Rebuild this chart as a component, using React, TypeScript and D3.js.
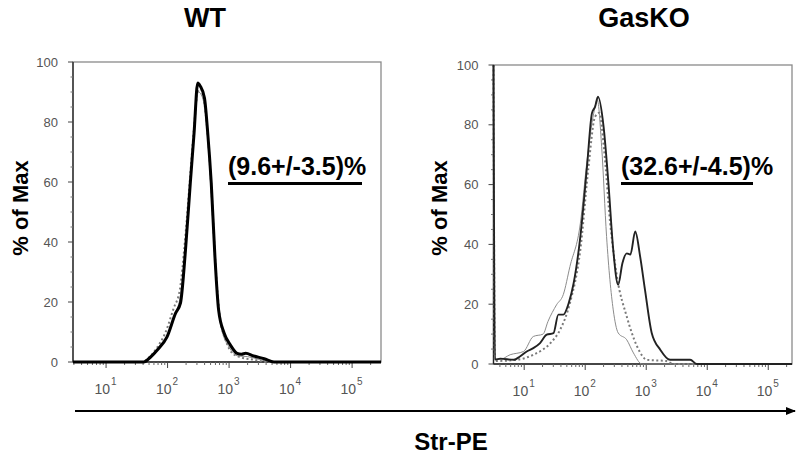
import React from "react";
import * as d3 from "d3";

// ---------- data ----------
const panelTitles = ["WT", "GasKO"];
const annotations = ["(9.6+/-3.5)%", "(32.6+/-4.5)%"];
const yTicks = [0, 20, 40, 60, 80, 100];
const xDecades = [1, 2, 3, 4, 5];

// WT panel: [intensity, % of Max]
const wtThick: [number, number][] = [
  [2.9, 0], [41, 0], [52, 1.5], [68, 4], [98, 8.4], [135, 16.3], [162, 19.6], [195, 37],
  [234, 59.6], [269, 76], [309, 93], [339, 92], [398, 88], [447, 77], [513, 59.6],
  [589, 35], [676, 17.3], [832, 9.6], [1047, 5.7], [1349, 2.9], [1585, 2.6], [1862, 2.9],
  [2512, 2.0], [3715, 1.1], [5370, 0], [295000, 0],
];
const wtThin: [number, number][] = [
  [2.9, 0], [40, 0], [56, 2], [71, 5], [100, 9], [132, 16], [158, 21], [200, 40], [240, 62],
  [282, 82], [316, 90], [355, 89], [417, 82], [479, 66], [550, 45], [631, 24], [759, 11],
  [1000, 5], [1413, 2], [1995, 1.8], [3162, 0.8], [5012, 0], [295000, 0],
];
const wtDotted: [number, number][] = [
  [2.9, 0], [38, 0], [50, 1.5], [66, 4.5], [93, 10], [126, 18], [158, 24], [191, 40],
  [229, 60], [269, 78], [309, 90], [347, 91], [398, 86], [457, 74], [525, 55], [603, 32],
  [708, 15], [891, 7], [1122, 3], [1585, 1.5], [2512, 0.8], [3981, 0], [295000, 0],
];

// GasKO panel
const koThick: [number, number][] = [
  [3.14, 100], [3.31, 1.5], [4.07, 1.8], [6.76, 1.4], [8.51, 2.5], [11, 4.2], [14.1, 5.3],
  [18.2, 7], [23.4, 9.8], [30.2, 10.3], [36.3, 16.5], [43.7, 16.5], [53.7, 20.4], [64.6, 27],
  [83.2, 42.6], [107, 66], [129, 83.9], [145, 86], [162, 89.4], [200, 79.4], [240, 60.5],
  [288, 38.2], [347, 26.5], [407, 33.7], [479, 37], [550, 36.6], [661, 44.3], [794, 36],
  [955, 24.8], [1230, 10.4], [1698, 4.8], [2455, 1.4], [5248, 1.4], [6761, 0], [245000, 0],
];
const koThin: [number, number][] = [
  [3.14, 100], [3.31, 1.5], [3.98, 1.5], [5.89, 3.1], [9.77, 4.2], [14.1, 9.2], [20.4, 10],
  [24.5, 14.2], [33.9, 19.8], [43.7, 23.2], [56.2, 32.6], [83.2, 47], [107, 68], [138, 83.9],
  [158, 88.3], [186, 72.7], [224, 42.6], [288, 18.1], [347, 10.4], [479, 8.1], [617, 3.7],
  [851, 0], [245000, 0],
];
const koDotted: [number, number][] = [
  [3.14, 100], [3.31, 1], [7.59, 1.4], [14.1, 3.1], [26.9, 7], [38.9, 11.5], [56.2, 20.4],
  [83.2, 38.2], [112, 65], [145, 82.7], [170, 84], [204, 71.6], [257, 47], [331, 29.3],
  [479, 15.9], [708, 5.9], [1023, 1.4], [2138, 1], [2818, 0], [245000, 0],
];

const panelDomains: [number, number][] = [[2.9, 295000], [3.14, 245000]];

// ---------- layout ----------
const W = 800;
const H = 456;
const panels = [
  { left: 73, right: 381, top: 62, bottom: 362, thickW: 3, thickC: "#000", titleX: 205, ylabX: 28, annX: 228, annW: 134 },
  { left: 493.5, right: 792, top: 65, bottom: 364, thickW: 1.9, thickC: "#222", titleX: 644, ylabX: 447, annX: 621, annW: 132 },
];
const panelData = [
  [wtDotted, wtThin, wtThick],
  [koDotted, koThin, koThick],
];

const font = "'Liberation Sans', Arial, Helvetica, sans-serif";

function Panel({ idx }: { idx: number }) {
  const p = panels[idx];
  const x = d3.scaleLog().domain(panelDomains[idx]).range([p.left, p.right]);
  const y = d3.scaleLinear().domain([0, 100]).range([p.bottom, p.top]);
  const line = d3
    .line<[number, number]>()
    .x((d) => x(d[0]))
    .y((d) => y(d[1]))
    .curve(d3.curveMonotoneX);

  const [dotted, thin, thick] = panelData[idx];

  const minor: number[] = [];
  const [d0, d1] = panelDomains[idx];
  for (let e = 0; e <= 5; e++) {
    for (let m = 2; m <= 9; m++) {
      const v = m * Math.pow(10, e);
      if (v > d0 && v < d1) minor.push(v);
    }
  }
  const yMinor = d3.range(5, 100, 5).filter((v) => v % 20 !== 0);

  return (
    <g>
      <rect
        x={p.left}
        y={p.top}
        width={p.right - p.left}
        height={p.bottom - p.top}
        fill="none"
        stroke="#8a8a8a"
        strokeWidth={1.3}
      />
      <line x1={p.left} x2={p.left} y1={p.top} y2={p.bottom} stroke="#222" strokeWidth={1.3} />
      <line x1={p.left} x2={p.right} y1={p.bottom} y2={p.bottom} stroke="#222" strokeWidth={1.3} />

      {yTicks.map((t) => (
        <g key={"y" + t}>
          <line x1={p.left - 5} x2={p.left} y1={y(t)} y2={y(t)} stroke="#444" strokeWidth={1} />
          <text
            x={p.left - 15}
            y={y(t) + 4.5}
            textAnchor="end"
            fontFamily={font}
            fontSize={13}
            fill="#555"
          >
            {t}
          </text>
        </g>
      ))}
      {yMinor.map((t) => (
        <line key={"ym" + t} x1={p.left - 2.5} x2={p.left} y1={y(t)} y2={y(t)} stroke="#777" strokeWidth={1} />
      ))}

      {minor.map((v, i) => (
        <line key={"xm" + i} x1={x(v)} x2={x(v)} y1={p.bottom} y2={p.bottom + 3} stroke="#666" strokeWidth={1} />
      ))}
      {xDecades.map((e) => {
        const xv = x(Math.pow(10, e));
        return (
          <g key={"xd" + e}>
            <line x1={xv} x2={xv} y1={p.bottom} y2={p.bottom + 6} stroke="#444" strokeWidth={1} />
            <text x={xv + 4} y={p.bottom + 32} textAnchor="end" fontFamily={font} fontSize={14} fill="#555">
              10
            </text>
            <text x={xv + 5} y={p.bottom + 23} textAnchor="start" fontFamily={font} fontSize={10} fill="#555">
              {e}
            </text>
          </g>
        );
      })}

      <path d={line(dotted) || ""} fill="none" stroke="#7a7a7a" strokeWidth={2} strokeDasharray="2,2.5" />
      <path d={line(thin) || ""} fill="none" stroke="#8c8c8c" strokeWidth={1} />
      <path d={line(thick) || ""} fill="none" stroke={p.thickC} strokeWidth={p.thickW} strokeLinejoin="round" />

      <text x={p.annX} y={175} fontFamily={font} fontWeight="bold" fontSize={25} fill="#000">
        {annotations[idx]}
      </text>
      <line x1={p.annX} x2={p.annX + p.annW} y1={183.5} y2={183.5} stroke="#000" strokeWidth={3} />

      <text
        transform={`translate(${p.ylabX},208) rotate(-90)`}
        textAnchor="middle"
        fontFamily={font}
        fontWeight="bold"
        fontSize={22}
        fill="#000"
      >
        % of Max
      </text>

      <text
        x={p.titleX}
        y={27}
        textAnchor="middle"
        fontFamily={font}
        fontWeight="bold"
        fontSize={27}
        fill="#000"
      >
        {panelTitles[idx]}
      </text>
    </g>
  );
}

export default function App() {
  return (
    <svg
      width={W}
      height={H}
      viewBox={`0 0 ${W} ${H}`}
      style={{ position: "absolute", left: 0, top: 0, background: "#fff" }}
    >
      <rect x={0} y={0} width={W} height={H} fill="#fff" />
      <defs>
        <marker id="arrowHead" markerWidth="10" markerHeight="8" refX="9" refY="4" orient="auto" markerUnits="userSpaceOnUse">
          <path d="M0,0 L10,4 L0,8 Z" fill="#000" />
        </marker>
      </defs>
      <Panel idx={0} />
      <Panel idx={1} />
      <line x1={75} x2={795} y1={411} y2={411} stroke="#000" strokeWidth={2} markerEnd="url(#arrowHead)" />
      <text x={451} y={450} textAnchor="middle" fontFamily={font} fontWeight="bold" fontSize={24} fill="#000">
        Str-PE
      </text>
    </svg>
  );
}
